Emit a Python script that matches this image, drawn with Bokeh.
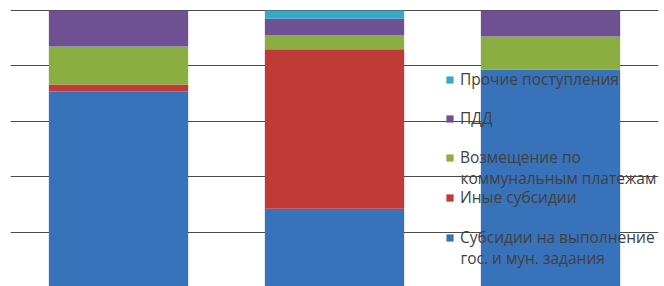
from bokeh.plotting import figure
from bokeh.models import ColumnDataSource, FactorRange, Range1d, Legend, LegendItem, Label, FixedTicker
from bokeh.embed import file_html
from bokeh.resources import INLINE

categories = ["1", "2", "3"]
series_keys = ["task", "other_sub", "utilities", "pdd", "other_income"]
series_names = ["Субсидии на выполнение гос. и мун. задания", "Иные субсидии",
                "Возмещение по коммунальным платежам", "ПДД", "Прочие поступления"]
subsidies_task = [70.8, 28.6, 78.7]
other_subsidies = [2.5, 57.4, 0.0]
utilities = [13.7, 5.2, 11.9]
pdd = [13.0, 5.8, 9.4]
other_income = [0.0, 3.0, 0.0]
y_ticks = [0, 20, 40, 60, 80, 100]
colors = ["#3872ba", "#c03a37", "#8aae42", "#6f5092", "#37a8c5"]

source = ColumnDataSource(dict(cat=categories, task=subsidies_task, other_sub=other_subsidies,
                               utilities=utilities, pdd=pdd, other_income=other_income))

p = figure(width=664, height=286, output_backend="svg", toolbar_location=None,
           x_range=FactorRange(factors=categories, range_padding=0),
           y_range=Range1d(0.54, 103.6),
           min_border_left=10, min_border_right=6, min_border_top=0, min_border_bottom=0)
p.outline_line_color = None
p.axis.visible = False
p.xgrid.visible = False
p.ygrid.ticker = FixedTicker(ticks=y_ticks)
p.ygrid.grid_line_color = "#4a4a4a"
p.ygrid.grid_line_width = 1

renderers = p.vbar_stack(series_keys, x="cat", width=0.645, source=source,
                         fill_color=colors, line_color=None)

text_color = "#404040"
font = "Open Sans"
fsize = "15.5px"

# legend entries: (renderer index, first line, frame-y of box bottom)
entries = [(4, "Прочие поступления", 196), (3, "ПДД", 157),
           (2, "Возмещение по", 118), (1, "Иные субсидии", 78),
           (0, "Субсидии на выполнение", 38)]
for idx, lab, ypos in entries:
    lg = Legend(items=[LegendItem(label=lab, renderers=[renderers[idx]])],
                location=(435, ypos), padding=0, margin=0, spacing=0,
                glyph_width=9, glyph_height=9, label_height=18, label_standoff=6,
                label_text_font=font, label_text_font_size=fsize, label_text_color=text_color,
                background_fill_alpha=0, border_line_color=None)
    p.add_layout(lg, "center")

for txt, ypos in [("коммунальным платежам", 109), ("гос. и мун. задания", 29)]:
    p.add_layout(Label(x=450, y=ypos, x_units="screen", y_units="screen", text=txt,
                       text_font=font, text_font_size=fsize, text_color=text_color,
                       text_baseline="middle"))

open("out.html", "w").write(file_html(p, INLINE))
